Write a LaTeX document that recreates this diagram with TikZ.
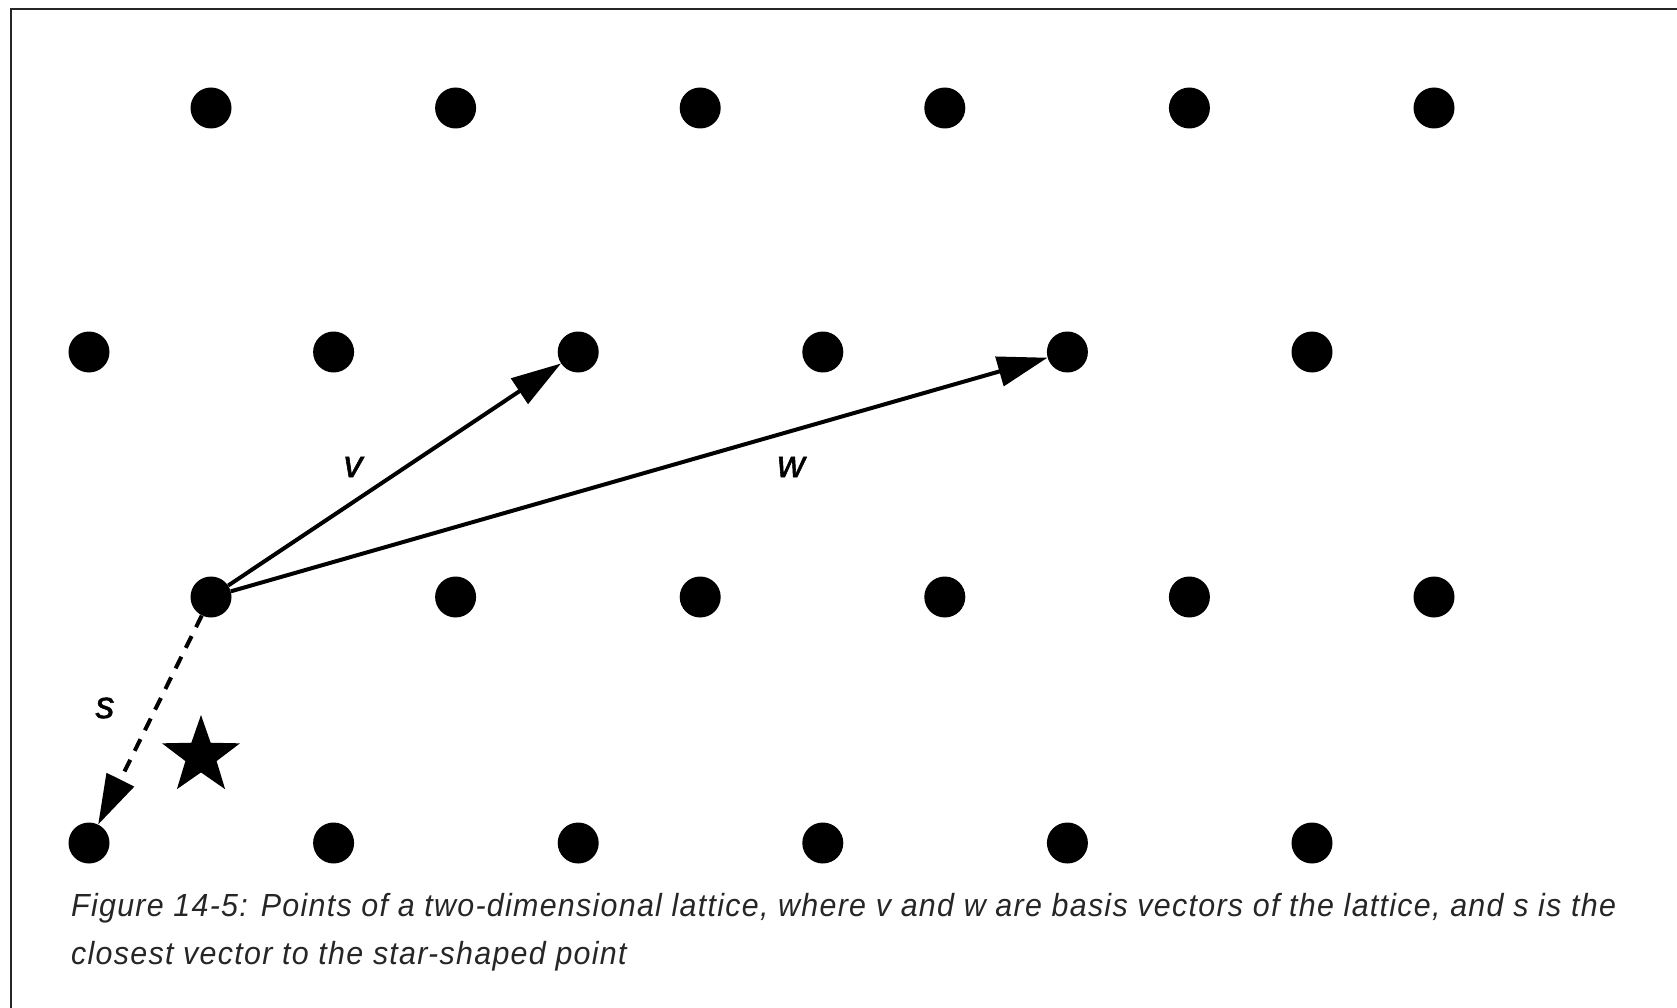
\documentclass[tikz,border=0pt]{standalone}
\usepackage{fontspec}
\setmainfont{Liberation Sans}
\newfontfamily\capfont{Liberation Sans}[FakeStretch=0.95,LetterSpace=4]
\newfontfamily\labfont{Liberation Sans}[FakeBold=1.5]
\usetikzlibrary{arrows.meta,shapes.geometric}
\begin{document}
\begin{tikzpicture}[x=1pt,y=-1pt,
  dot/.style={circle,fill=black,inner sep=0pt,minimum size=41pt},
  vec/.style={line width=4pt,-{Triangle[length=50pt,width=30pt]}},
  lab/.style={font=\labfont\itshape\fontsize{38}{38}\selectfont,inner sep=0pt},
  captext/.style={font=\capfont\itshape\fontsize{32}{36}\selectfont,inner sep=0pt,anchor=base west,text=black!85}]
\useasboundingbox (0,0) rectangle (1677,1008);
\draw[line width=2.5pt,color=black!85] (11,1008) -- (11,9) -- (1677,9);
% rows
\foreach \k in {0,...,5}{
  \pgfmathsetmacro{\xa}{211+\k*244.6}
  \pgfmathsetmacro{\xb}{89+\k*244.6}
  \node[dot] (a\k) at (\xa,108) {};
  \node[dot] (b\k) at (\xb,352) {};
  \node[dot] (c\k) at (\xa,597) {};
  \node[dot] (d\k) at (\xb,843) {};
}
\node[star,star points=5,star point ratio=2.5,fill=black,inner sep=0pt,minimum size=82pt] (st) at (201,756) {};
\draw[vec] (c0) -- (b2);
\draw[vec] (c0) -- (b4);
\draw[vec,dash pattern=on 13pt off 10pt] (c0) -- (d0);
\node[lab] (lv) at (353,467) {v};
\node[lab] (lw) at (791,467) {w};
\node[lab] (ls) at (105,708) {s};
\node[captext] (cap1) at (71,916) {Figure 14-5: Points of a two-dimensional lattice, where v and w are basis vectors of the lattice, and s is the};
\node[captext] (cap2) at (71,964) {closest vector to the star-shaped point};
\end{tikzpicture}
\end{document}
